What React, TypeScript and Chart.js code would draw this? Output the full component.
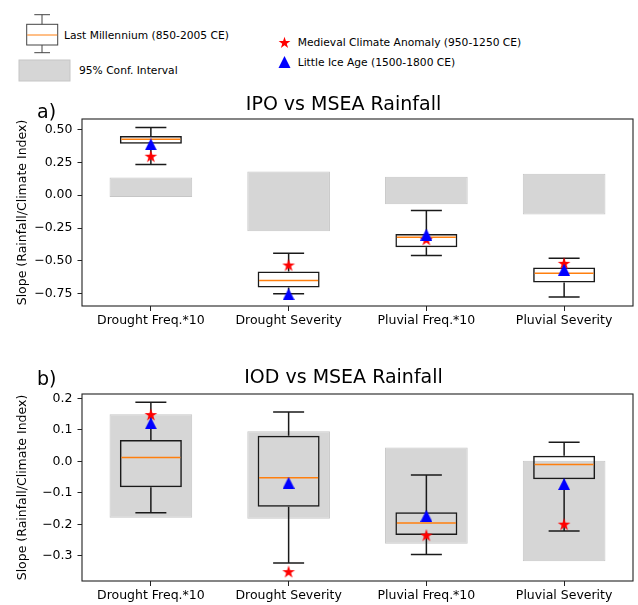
import React, { useEffect, useRef } from "react";
import { Chart, registerables } from "chart.js";
Chart.register(...registerables);
Chart.defaults.font.family = "'DejaVu Sans', sans-serif";

const categories = ["Drought Freq.*10", "Drought Severity", "Pluvial Freq.*10", "Pluvial Severity"];
const positions = [1, 2, 3, 4];

// Panel a: IPO vs MSEA Rainfall
const ipoWhiskerLow = [0.233, -0.75, -0.459, -0.775];
const ipoQ1 = [0.392, -0.702, -0.395, -0.664];
const ipoMedian = [0.425, -0.649, -0.319, -0.593];
const ipoQ3 = [0.45, -0.58, -0.296, -0.55];
const ipoWhiskerHigh = [0.516, -0.441, -0.117, -0.479];
const ipoCiLow = [-0.013, -0.274, -0.068, -0.147];
const ipoCiHigh = [0.134, 0.18, 0.141, 0.164];
const ipoMca = [0.293, -0.535, -0.34, -0.522];
const ipoLia = [0.387, -0.754, -0.3, -0.567];
const ipoTicks = [0.5, 0.25, 0, -0.25, -0.5, -0.75];
const ipoRange = [-0.843, 0.58];

// Panel b: IOD vs MSEA Rainfall
const iodWhiskerLow = [-0.163, -0.323, -0.296, -0.221];
const iodQ1 = [-0.082, -0.144, -0.234, -0.057];
const iodMedian = [0.012, -0.052, -0.196, -0.01];
const iodQ3 = [0.068, 0.081, -0.162, 0.018];
const iodWhiskerHigh = [0.188, 0.157, -0.043, 0.061];
const iodCiLow = [-0.179, -0.182, -0.262, -0.317];
const iodCiHigh = [0.15, 0.096, 0.044, 0.002];
const iodMca = [0.147, -0.352, -0.236, -0.201];
const iodLia = [0.121, -0.068, -0.173, -0.072];
const iodTicks = [0.2, 0.1, 0, -0.1, -0.2, -0.3];
const iodRange = [-0.38, 0.214];

const FONT = "'DejaVu Sans', sans-serif";

function makeStar(size: number, color: string) {
  const c = document.createElement("canvas");
  c.width = size;
  c.height = size;
  const ctx = c.getContext("2d")!;
  const cx = size / 2, cy = size / 2;
  const R = size / 2 - 0.3, r = R * 0.381966;
  ctx.beginPath();
  for (let i = 0; i < 10; i++) {
    const ang = -Math.PI / 2 + (i * Math.PI) / 5;
    const rad = i % 2 === 0 ? R : r;
    const px = cx + Math.cos(ang) * rad, py = cy + Math.sin(ang) * rad;
    if (i === 0) ctx.moveTo(px, py); else ctx.lineTo(px, py);
  }
  ctx.closePath();
  ctx.fillStyle = color;
  ctx.fill();
  return c;
}

function makeTriangle(size: number, color: string) {
  const c = document.createElement("canvas");
  c.width = size;
  c.height = size;
  const ctx = c.getContext("2d")!;
  ctx.beginPath();
  ctx.moveTo(size / 2, 0);
  ctx.lineTo(size, size);
  ctx.lineTo(0, size);
  ctx.closePath();
  ctx.fillStyle = color;
  ctx.fill();
  return c;
}

type PanelData = {
  title: string;
  label: string;
  wLow: number[]; q1: number[]; med: number[]; q3: number[]; wHigh: number[];
  ciLow: number[]; ciHigh: number[]; mca: number[]; lia: number[];
  ticks: number[]; range: number[]; decimals: number;
  padTop: number; xAxisH: number; titleY: number; labelY: number;
};

function Panel({ d, top, height }: { d: PanelData; top: number; height: number }) {
  const ref = useRef<HTMLCanvasElement>(null);
  useEffect(() => {
    const star = makeStar(14, "#ff0000");
    const tri = makeTriangle(12, "#0000ff");
    const extras = {
      id: "boxExtras",
      afterDatasetDraw(chart: any, args: any) {
        if (args.index !== 1) return;
        const { ctx } = chart;
        const x = chart.scales.x, y = chart.scales.y;
        ctx.save();
        ctx.lineWidth = 1.5;
        ctx.strokeStyle = "#1a1a1a";
        positions.forEach((p, i) => {
          const cx = x.getPixelForValue(p);
          const capL = x.getPixelForValue(p - 0.1125), capR = x.getPixelForValue(p + 0.1125);
          ctx.beginPath();
          ctx.moveTo(cx, y.getPixelForValue(d.q3[i]));
          ctx.lineTo(cx, y.getPixelForValue(d.wHigh[i]));
          ctx.moveTo(cx, y.getPixelForValue(d.q1[i]));
          ctx.lineTo(cx, y.getPixelForValue(d.wLow[i]));
          ctx.moveTo(capL, y.getPixelForValue(d.wHigh[i]));
          ctx.lineTo(capR, y.getPixelForValue(d.wHigh[i]));
          ctx.moveTo(capL, y.getPixelForValue(d.wLow[i]));
          ctx.lineTo(capR, y.getPixelForValue(d.wLow[i]));
          ctx.stroke();
        });
        ctx.strokeStyle = "#ff7f0e";
        positions.forEach((p, i) => {
          const l = x.getPixelForValue(p - 0.225) + 1.5, r = x.getPixelForValue(p + 0.225) - 1.5;
          const my = y.getPixelForValue(d.med[i]);
          ctx.beginPath();
          ctx.moveTo(l, my);
          ctx.lineTo(r, my);
          ctx.stroke();
        });
        ctx.restore();
      },
      afterDraw(chart: any) {
        const { ctx, chartArea: a } = chart;
        ctx.save();
        ctx.strokeStyle = "#222";
        ctx.lineWidth = 1.1;
        ctx.strokeRect(a.left, a.top, a.right - a.left, a.bottom - a.top);
        ctx.fillStyle = "#000";
        ctx.font = `19px ${FONT}`;
        ctx.textAlign = "center";
        ctx.textBaseline = "alphabetic";
        ctx.fillText(d.title, 343.5, d.titleY);
        ctx.textAlign = "left";
        ctx.fillText(d.label, 37, d.labelY);
        ctx.restore();
      },
    };
    const fmt = (v: number) => {
      const s = Math.abs(v).toFixed(d.decimals);
      return v < -1e-9 ? "\u2212" + s : s;
    };
    const chart = new Chart(ref.current!, {
      type: "bar",
      data: {
        datasets: [
          {
            type: "bar",
            data: positions.map((p, i) => ({ x: p, y: [d.ciLow[i], d.ciHigh[i]] })) as any,
            backgroundColor: "#d6d6d6",
            borderColor: "#c6c6c6",
            borderWidth: 1,
            borderSkipped: false,
            grouped: false,
            categoryPercentage: 1,
            barPercentage: 0.6,
            order: 5,
          } as any,
          {
            type: "bar",
            data: positions.map((p, i) => ({ x: p, y: [d.q1[i], d.q3[i]] })) as any,
            backgroundColor: "rgba(0,0,0,0)",
            borderColor: "#1a1a1a",
            borderWidth: 1.5,
            borderSkipped: false,
            grouped: false,
            categoryPercentage: 1,
            barPercentage: 0.45,
            order: 4,
          } as any,
          {
            type: "scatter",
            data: positions.map((p, i) => ({ x: p, y: d.mca[i] })),
            pointStyle: star,
            order: 2,
          } as any,
          {
            type: "scatter",
            data: positions.map((p, i) => ({ x: p, y: d.lia[i] })),
            pointStyle: tri,
            order: 1,
          } as any,
        ],
      },
      options: {
        animation: false,
        responsive: false,
        devicePixelRatio: 1,
        layout: { padding: { top: d.padTop, right: 4, left: 0, bottom: 0 } },
        plugins: { legend: { display: false }, tooltip: { enabled: false }, title: { display: false } },
        scales: {
          x: {
            type: "linear",
            min: 0.5,
            max: 4.5,
            offset: false,
            afterFit: (s: any) => { s.height = d.xAxisH; },
            afterBuildTicks: (s: any) => { s.ticks = positions.map((v) => ({ value: v })); },
            ticks: {
              callback: (v: any) => categories[positions.indexOf(Number(v))] ?? "",
              color: "#000",
              font: { family: FONT, size: 12.5 },
              padding: 2,
              maxRotation: 0,
              autoSkip: false,
            },
            grid: { display: true, drawOnChartArea: false, drawTicks: true, tickLength: 5, color: "#222", offset: false },
            border: { display: false },
          },
          y: {
            type: "linear",
            min: d.range[0],
            max: d.range[1],
            afterFit: (s: any) => { s.width = 82; },
            afterBuildTicks: (s: any) => { s.ticks = d.ticks.map((v) => ({ value: v })); },
            ticks: {
              callback: (v: any) => fmt(Number(v)),
              color: "#000",
              font: { family: FONT, size: 12.5 },
              padding: 5,
            },
            title: {
              display: true,
              text: "Slope (Rainfall/Climate Index)",
              color: "#000",
              font: { family: FONT, size: 12.5 },
              padding: { top: 15, bottom: 0 },
            },
            grid: { display: true, drawOnChartArea: false, drawTicks: true, tickLength: 4.5, color: "#222" },
            border: { display: false },
          },
        },
      } as any,
      plugins: [extras],
    });
    return () => chart.destroy();
  }, []);
  return (
    <div style={{ position: "absolute", left: 0, top, width: 638, height }}>
      <canvas ref={ref} width={638} height={height} style={{ display: "block" }} />
    </div>
  );
}

const panelA: PanelData = {
  title: "IPO vs MSEA Rainfall", label: "a)",
  wLow: ipoWhiskerLow, q1: ipoQ1, med: ipoMedian, q3: ipoQ3, wHigh: ipoWhiskerHigh,
  ciLow: ipoCiLow, ciHigh: ipoCiHigh, mca: ipoMca, lia: ipoLia,
  ticks: ipoTicks, range: ipoRange, decimals: 2,
  padTop: 31, xAxisH: 34, titleY: 110 - 88, labelY: 117.5 - 88,
};
const panelB: PanelData = {
  title: "IOD vs MSEA Rainfall", label: "b)",
  wLow: iodWhiskerLow, q1: iodQ1, med: iodMedian, q3: iodQ3, wHigh: iodWhiskerHigh,
  ciLow: iodCiLow, ciHigh: iodCiHigh, mca: iodMca, lia: iodLia,
  ticks: iodTicks, range: iodRange, decimals: 1,
  padTop: 49, xAxisH: 24, titleY: 382.5 - 345, labelY: 384.5 - 345,
};

function starPoints(cx: number, cy: number, R: number) {
  const r = R * 0.381966;
  const pts: string[] = [];
  for (let i = 0; i < 10; i++) {
    const ang = -Math.PI / 2 + (i * Math.PI) / 5;
    const rad = i % 2 === 0 ? R : r;
    pts.push(`${(cx + Math.cos(ang) * rad).toFixed(2)},${(cy + Math.sin(ang) * rad).toFixed(2)}`);
  }
  return pts.join(" ");
}

function Legend() {
  const ts = { fontFamily: FONT, fontSize: 10.7, fill: "#000" } as any;
  return (
    <svg width={638} height={88} style={{ position: "absolute", left: 0, top: 0 }}>
      <line x1={42} y1={14.7} x2={42} y2={24.3} stroke="#444" strokeWidth={1} />
      <line x1={42} y1={45} x2={42} y2={52.7} stroke="#444" strokeWidth={1} />
      <line x1={34.3} y1={14.7} x2={50} y2={14.7} stroke="#444" strokeWidth={1} />
      <line x1={34.3} y1={52.7} x2={50} y2={52.7} stroke="#444" strokeWidth={1} />
      <rect x={26.7} y={24.3} width={31} height={20.7} fill="none" stroke="#444" strokeWidth={1} />
      <line x1={27.2} y1={35} x2={57.2} y2={35} stroke="#ff7f0e" strokeWidth={1} />
      <text x={64} y={35} dominantBaseline="central" style={ts}>Last Millennium (850-2005 CE)</text>
      <rect x={19} y={60} width={51} height={21} fill="#d6d6d6" stroke="#c6c6c6" strokeWidth={1} />
      <text x={79} y={70.7} dominantBaseline="central" style={ts}>95% Conf. Interval</text>
      <polygon points={starPoints(284.5, 43, 6.2)} fill="#ff0000" />
      <text x={297.7} y={42.7} dominantBaseline="central" style={ts}>Medieval Climate Anomaly (950-1250 CE)</text>
      <polygon points="284.5,56 290.5,68 278.5,68" fill="#0000ff" />
      <text x={297.7} y={62} dominantBaseline="central" style={ts}>Little Ice Age (1500-1800 CE)</text>
    </svg>
  );
}

export default function App() {
  return (
    <div style={{ position: "absolute", left: 0, top: 0, width: 638, height: 605, background: "#fff", overflow: "hidden" }}>
      <Legend />
      <Panel d={panelA} top={88} height={252} />
      <Panel d={panelB} top={345} height={260} />
    </div>
  );
}
